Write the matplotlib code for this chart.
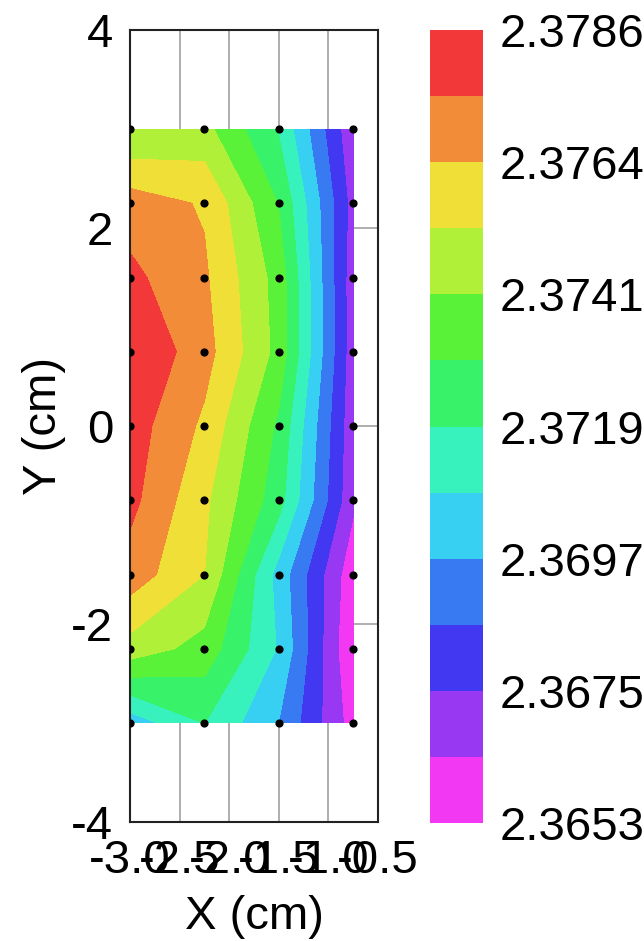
import numpy as np
import matplotlib
matplotlib.use("Agg")
import matplotlib.pyplot as plt
from matplotlib.colors import ListedColormap, BoundaryNorm

plt.rcParams['font.family'] = ['Liberation Sans', 'DejaVu Sans']
plt.rcParams['axes.unicode_minus'] = False

# measurement grid (cm)
x_pos = [-3.0, -2.25, -1.5, -0.75]
y_pos = [3.0, 2.25, 1.5, 0.75, 0.0, -0.75, -1.5, -2.25, -3.0]

# measured value per column, listed top row to bottom row
col_m300 = [2.37414, 2.37694, 2.37777, 2.37860, 2.37805, 2.37782, 2.37699, 2.37483, 2.37018]
col_m225 = [2.37450, 2.37627, 2.37655, 2.37682, 2.37616, 2.37550, 2.37528, 2.37372, 2.37197]
col_m150 = [2.37184, 2.37300, 2.37372, 2.37381, 2.37284, 2.37239, 2.37040, 2.37073, 2.36971]
col_m075 = [2.36663, 2.36707, 2.36685, 2.36685, 2.36674, 2.36663, 2.36563, 2.36530, 2.36591]

z_min, z_max = 2.3653, 2.3786
n_bands = 12
cbar_labels = ["2.3653", "2.3675", "2.3697", "2.3719", "2.3741", "2.3764", "2.3786"]

band_colors = ['#F238F2', '#9838F2', '#4238F2', '#387AF2', '#38D0F2', '#38F2BE',
               '#38F269', '#59F238', '#B0F038', '#F0DF37', '#F28C38', '#F23838']

X, Y = np.meshgrid(x_pos, y_pos)
Z = np.column_stack([col_m300, col_m225, col_m150, col_m075])
levels = np.linspace(z_min, z_max, n_bands + 1)
cmap = ListedColormap(band_colors)
norm = BoundaryNorm(levels, cmap.N)

fig = plt.figure(figsize=(6.44, 9.41), dpi=100)
ax = fig.add_axes([130 / 644, 119 / 941, 248 / 644, 792 / 941])
cax = fig.add_axes([430 / 644, 118 / 941, 53 / 644, 793 / 941])

cf = ax.contourf(X, Y, Z, levels=levels, cmap=cmap, norm=norm)
ax.scatter(X.ravel(), Y.ravel(), s=24, c='black', zorder=3)

ax.set_xlim(-3.0, -0.5)
ax.set_ylim(-4, 4)
ax.set_xticks([-3.0, -2.5, -2.0, -1.5, -1.0, -0.5])
ax.set_xticklabels(["-3.0", "-2.5", "-2.0", "-1.5", "-1.0", "-0.5"])
ax.set_yticks([-4, -2, 0, 2, 4])
ax.set_axisbelow(True)
ax.grid(True, color='#999999', linewidth=1.1)
ax.tick_params(axis='both', length=0, labelsize=34)
ax.tick_params(axis='x', pad=12)
ax.tick_params(axis='y', pad=12)
for sp in ax.spines.values():
    sp.set_linewidth(1.5)
    sp.set_color('#222222')
ax.set_xlabel("X (cm)", fontsize=34, labelpad=9)
ax.set_ylabel("Y (cm)", fontsize=34, labelpad=4)

cbar = fig.colorbar(cf, cax=cax, ticks=levels[::2])
cbar.outline.set_visible(False)
cbar.ax.minorticks_off()
cbar.ax.set_yticklabels(cbar_labels)
cbar.ax.tick_params(which='both', length=0, labelsize=34, pad=12)

fig.savefig("out.png", dpi=100)
